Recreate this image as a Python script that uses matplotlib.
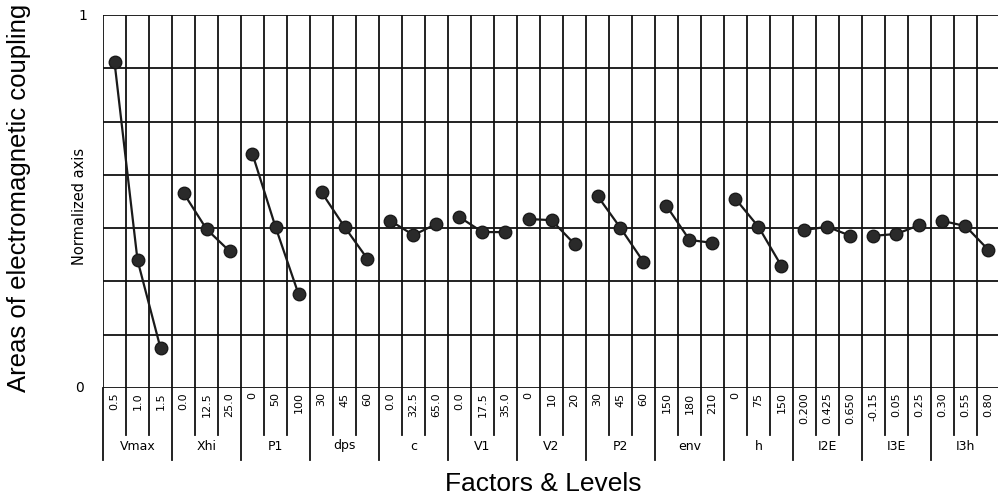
import matplotlib.pyplot as plt
import numpy as np

# factors and their three levels
factors = ["Vmax", "Xhi", "P1", "dps", "c", "V1", "V2", "P2", "env", "h", "I2E", "I3E", "I3h"]
levels = [
    ["0.5", "1.0", "1.5"],
    ["0.0", "12.5", "25.0"],
    ["0", "50", "100"],
    ["30", "45", "60"],
    ["0.0", "32.5", "65.0"],
    ["0.0", "17.5", "35.0"],
    ["0", "10", "20"],
    ["30", "45", "60"],
    ["150", "180", "210"],
    ["0", "75", "150"],
    ["0.200", "0.425", "0.650"],
    ["-0.15", "0.05", "0.25"],
    ["0.30", "0.55", "0.80"],
]
# normalized mean response per level
effects = [
    [0.874, 0.343, 0.107],
    [0.523, 0.426, 0.367],
    [0.627, 0.432, 0.252],
    [0.525, 0.432, 0.346],
    [0.448, 0.410, 0.440],
    [0.458, 0.418, 0.418],
    [0.453, 0.450, 0.386],
    [0.515, 0.429, 0.338],
    [0.488, 0.397, 0.389],
    [0.507, 0.432, 0.327],
    [0.424, 0.432, 0.408],
    [0.408, 0.413, 0.437],
    [0.448, 0.434, 0.370],
]

W, H = 998, 503
fig = plt.figure(figsize=(W / 100, H / 100), dpi=100)
x0, x1, ytop, ybot = 103, 1000, 15, 388
ax = fig.add_axes([x0 / W, 1 - ybot / H, (x1 - x0) / W, (ybot - ytop) / H])

ncol = 3 * len(factors)
ax.set_xlim(0, ncol)
ax.set_ylim(0, 1)

# grid
for k in range(8):
    ax.axhline(k / 7, color="#111111", lw=1.3, zorder=1)
for i in range(ncol + 1):
    ax.axvline(i, color="#111111", lw=1.3, zorder=1)

# effect lines
for f, vals in enumerate(effects):
    xs = np.arange(3) + 3 * f + 0.5
    ax.plot(xs, vals, color="#1a1a1a", lw=1.6, marker="o", ms=9,
            mfc="#2a2a2a", mec="#1a1a1a", zorder=3)

for s in ax.spines.values():
    s.set_visible(False)
ax.set_xticks([])
ax.set_yticks([])

# category table under the axis
trans = ax.get_xaxis_transform()
hpx = ybot - ytop
lvl_bot = -(435 - ybot) / hpx
fac_bot = -(460 - ybot) / hpx
for i in range(ncol + 1):
    bottom = fac_bot if i % 3 == 0 else lvl_bot
    ax.plot([i, i], [0, bottom], transform=trans, color="#111111",
            lw=1.3, clip_on=False)
for f, name in enumerate(factors):
    for j, lab in enumerate(levels[f]):
        ax.text(3 * f + j + 0.5, -0.012, lab, transform=trans, rotation=90,
                ha="center", va="top", fontsize=8, family="DejaVu Sans")
    ax.text(3 * f + 1.5, -(446 - ybot) / hpx, name, transform=trans,
            ha="center", va="center", fontsize=9, family="DejaVu Sans")

fig.text(83 / W, 1 - 16 / H, "1", ha="center", va="center", fontsize=10)
fig.text(80 / W, 1 - 388 / H, "0", ha="center", va="center", fontsize=10)
fig.text(80 / W, 1 - 206 / H, "Normalized axis", rotation=90,
         ha="center", va="center", fontsize=10.5, family="DejaVu Sans")
fig.text(19 / W, 1 - 198 / H, "Areas of electromagnetic coupling", rotation=90,
         ha="center", va="center", fontsize=18.5, family="Liberation Sans")
fig.text(543 / W, 1 - 484 / H, "Factors & Levels",
         ha="center", va="center", fontsize=19, family="Liberation Sans")

fig.savefig("out.png", dpi=100)
